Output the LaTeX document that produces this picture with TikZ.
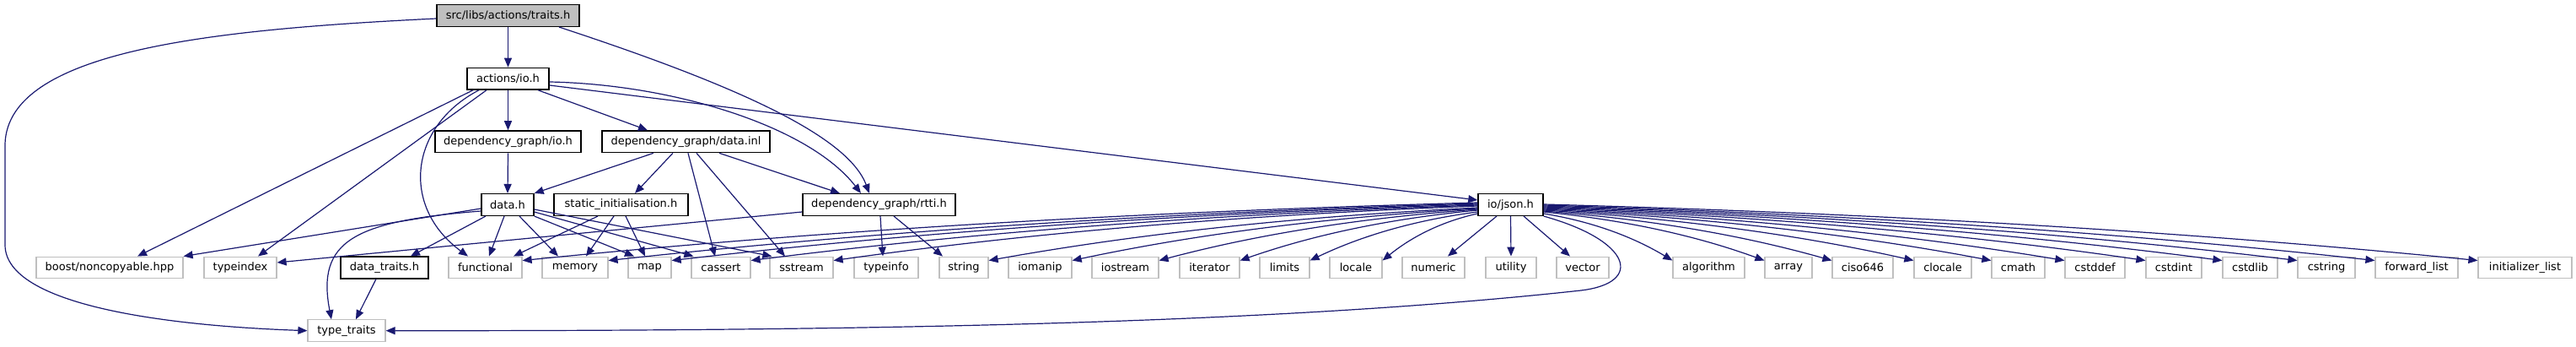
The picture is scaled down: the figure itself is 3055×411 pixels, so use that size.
\documentclass[tikz,border=0pt]{standalone}
\usepackage{fontspec}
\setmainfont{DejaVu Sans}
\usetikzlibrary{arrows.meta}
\definecolor{edgeblue}{HTML}{191970}
\definecolor{greyb}{HTML}{BFBFBF}
\begin{document}
\begin{tikzpicture}[x=1pt,y=-1pt,
  box/.style={draw=black, line width=1.4pt, fill=white, minimum height=25.7pt, inner sep=0pt, font=\fontsize{13pt}{15pt}\selectfont},
  ext/.style={box, draw=greyb, line width=1.2pt},
  root/.style={box, fill=greyb},
  edge/.style={draw=edgeblue, line width=1.2pt, -{Triangle[length=11pt,width=9pt]}}]
\useasboundingbox (0,0) rectangle (3055,411);
% rows
\node[root, minimum width=169pt] (traits) at (602.5,18.5) {src/libs/actions/traits.h};
\node[box, minimum width=97pt] (actions) at (602.5,93.2) {actions/io.h};
\node[box, minimum width=173pt] (depio) at (602.5,167.8) {dependency\_graph/io.h};
\node[box, minimum width=199pt] (depdata) at (813.5,167.8) {dependency\_graph/data.inl};
\node[box, minimum width=62pt] (datah) at (602,242.5) {data.h};
\node[box, minimum width=159pt] (static) at (736.5,242.5) {static\_initialisation.h};
\node[box, minimum width=181pt] (rtti) at (1042.5,242.5) {dependency\_graph/rtti.h};
\node[box, minimum width=77pt] (json) at (1791.5,242.5) {io/json.h};
% bottom row
\node[ext, minimum width=174pt] (boost) at (130,317) {boost/noncopyable.hpp};
\node[ext, minimum width=86pt] (typeindex) at (285,317) {typeindex};
\node[box, minimum width=104pt] (datatraits) at (456,317) {data\_traits.h};
\node[ext, minimum width=87pt] (functional) at (575.5,317) {functional};
\node[ext, minimum width=78pt] (memory) at (682,317) {memory};
\node[ext, minimum width=51pt] (map) at (770.5,317) {map};
\node[ext, minimum width=70pt] (cassert) at (855,317) {cassert};
\node[ext, minimum width=75pt] (sstream) at (950.5,317) {sstream};
\node[ext, minimum width=76pt] (typeinfo) at (1051,317) {typeinfo};
\node[ext, minimum width=58pt] (string) at (1143,317) {string};
\node[ext, minimum width=75pt] (iomanip) at (1233.5,317) {iomanip};
\node[ext, minimum width=79pt] (iostream) at (1334.5,317) {iostream};
\node[ext, minimum width=71pt] (iterator) at (1434.5,317) {iterator};
\node[ext, minimum width=59pt] (limits) at (1523.5,317) {limits};
\node[ext, minimum width=62pt] (locale) at (1608,317) {locale};
\node[ext, minimum width=74pt] (numeric) at (1700,317) {numeric};
\node[ext, minimum width=60pt] (utility) at (1792,317) {utility};
\node[ext, minimum width=62pt] (vector) at (1877,317) {vector};
\node[ext, minimum width=85pt] (algorithm) at (2026.5,317) {algorithm};
\node[ext, minimum width=56pt] (array) at (2121,317) {array};
\node[ext, minimum width=72pt] (ciso646) at (2209,317) {ciso646};
\node[ext, minimum width=68pt] (clocale) at (2304,317) {clocale};
\node[ext, minimum width=63pt] (cmath) at (2393.5,317) {cmath};
\node[ext, minimum width=71pt] (cstddef) at (2484.5,317) {cstddef};
\node[ext, minimum width=66pt] (cstdint) at (2578,317) {cstdint};
\node[ext, minimum width=65pt] (cstdlib) at (2668.5,317) {cstdlib};
\node[ext, minimum width=68pt] (cstring) at (2759,317) {cstring};
\node[ext, minimum width=98pt] (forwardlist) at (2866,317) {forward\_list};
\node[ext, minimum width=111pt] (initlist) at (2994.5,317) {initializer\_list};
\node[ext, minimum width=92pt] (typetraits) at (411,391.7) {type\_traits};
% edges from traits.h
\draw[edge] (traits.south) -- (actions.north);
\draw[edge] ([yshift=-3.5pt]traits.west) .. controls (250,35) and (10,60) .. (6,170) -- (6,290) .. controls (6,362) and (200,386) .. (typetraits.west);
\draw[edge] ([xshift=60.5pt]traits.south) .. controls (870,100) and (1005,160) .. ([xshift=-11.5pt]rtti.north);
% edges from actions/io.h
\draw[edge] (actions.south) -- (depio.north);
\draw[edge] ([xshift=35.5pt]actions.south) -- ([xshift=-45.5pt]depdata.north);
\draw[edge] ([xshift=-41.5pt]actions.south) -- ([xshift=33pt]boost.north);
\draw[edge] ([xshift=-25.5pt]actions.south) -- ([xshift=21pt]typeindex.north);
\draw[edge] ([xshift=-34.5pt]actions.south) .. controls (485,150) and (475,245) .. ([xshift=-20.5pt]functional.north);
\draw[edge] ([yshift=-3.8pt]actions.east) .. controls (800,100) and (960,150) .. ([xshift=-21.5pt]rtti.north);
\draw[edge] ([yshift=-7.8pt]actions.east) -- ([yshift=5.5pt]json.west);
% dependency_graph/io.h
\draw[edge] (depio.south) -- (datah.north);
% dependency_graph/data.inl
\draw[edge] ([xshift=-38.5pt]depdata.south) -- (datah.north east);
\draw[edge] ([xshift=-15.5pt]depdata.south) -- ([xshift=16.5pt]static.north);
\draw[edge] ([xshift=2.5pt]depdata.south) -- ([xshift=-7pt]cassert.north);
\draw[edge] ([xshift=12.5pt]depdata.south) -- ([xshift=-19.5pt]sstream.north);
\draw[edge] ([xshift=39.5pt]depdata.south) -- ([xshift=-46.5pt]rtti.north);
% data.h
\draw[edge] ([yshift=-4.5pt]datah.west) -- (boost.north east);
\draw[edge] ([yshift=-7.5pt]datah.west) .. controls (420,262) and (375,285) .. ([xshift=-18pt]typetraits.north);
\draw[edge] ([xshift=-26pt]datah.south) -- ([xshift=31pt]datatraits.north);
\draw[edge] ([xshift=-4pt]datah.south) -- ([xshift=4.5pt]functional.north);
\draw[edge] ([xshift=14pt]datah.south) -- ([xshift=-20pt]memory.north);
\draw[edge] (datah.south east) -- ([xshift=-18.5pt]map.north);
\draw[edge] ([yshift=-8.5pt]datah.east) -- ([xshift=3pt]cassert.north west);
\draw[edge] ([yshift=-5.5pt]datah.east) -- ([xshift=3pt]sstream.north west);
% static_initialisation.h
\draw[edge] ([xshift=-27.5pt]static.south) -- ([xshift=33.5pt]functional.north);
\draw[edge] ([xshift=-8.5pt]static.south) -- ([xshift=13pt]memory.north);
\draw[edge] ([xshift=5.5pt]static.south) -- ([xshift=-5.5pt]map.north);
% rtti.h
\draw[edge] ([yshift=-8.5pt]rtti.west) -- ([yshift=6pt]typeindex.east);
\draw[edge] ([xshift=1.5pt]rtti.south) -- ([xshift=-4pt]typeinfo.north);
\draw[edge] ([xshift=17.5pt]rtti.south) -- ([xshift=-25pt]string.north);
% data_traits.h
\draw[edge] ([xshift=-10pt]datatraits.south) -- ([xshift=11pt]typetraits.north);
% io/json.h : leftwards
\foreach \tg/\s/\xe in {functional/2.5/619, memory/1.5/721, map/0.5/796, cassert/-0.5/890, sstream/-1.5/988, string/-3.5/1172, iomanip/-4.5/1271, iostream/-5.5/1374, iterator/-6.5/1470, limits/-8.5/1553, locale/-10.5/1639}{
  \pgfmathsetmacro{\ca}{(1753-\xe)/3}
  \pgfmathsetmacro{\dr}{309-(242.5-\s)}
  \pgfmathsetmacro{\cb}{0.15*\dr}
  \pgfmathsetmacro{\cc}{0.55*\dr}
  \draw[edge] ([yshift=\s pt]json.west) .. controls +(-\ca,\cb) and +(\ca,-\cc) .. ([yshift=-5pt]\tg.north east);
}
\draw[edge] ([xshift=-16.5pt]json.south) -- ([xshift=17pt]numeric.north);
\draw[edge] (json.south) -- (utility.north);
\draw[edge] ([xshift=15.5pt]json.south) -- ([xshift=-15pt]vector.north);
% io/json.h : rightwards
\foreach \tg/\s/\xl in {algorithm/-10.5/1984, array/-8.5/2093, ciso646/-7.5/2173, clocale/-6.5/2270, cmath/-5.5/2362, cstddef/-4.5/2449, cstdint/-3.5/2545, cstdlib/-2.5/2636, cstring/-1.5/2725, forwardlist/-0.5/2817, initlist/0.5/2939}{
  \pgfmathsetmacro{\ca}{(\xl-1830)/3}
  \pgfmathsetmacro{\dr}{309-(242.5-\s)}
  \pgfmathsetmacro{\cb}{0.15*\dr}
  \pgfmathsetmacro{\cc}{0.55*\dr}
  \draw[edge] ([yshift=\s pt]json.east) .. controls +(\ca,\cb) and +(-\ca,-\cc) .. ([yshift=-5pt]\tg.north west);
}
\draw[edge] (json.south east) .. controls (1935,285) and (1950,335) .. (1875,344) .. controls (1500,385) and (1000,392) .. (typetraits.east);
\end{tikzpicture}
\end{document}
